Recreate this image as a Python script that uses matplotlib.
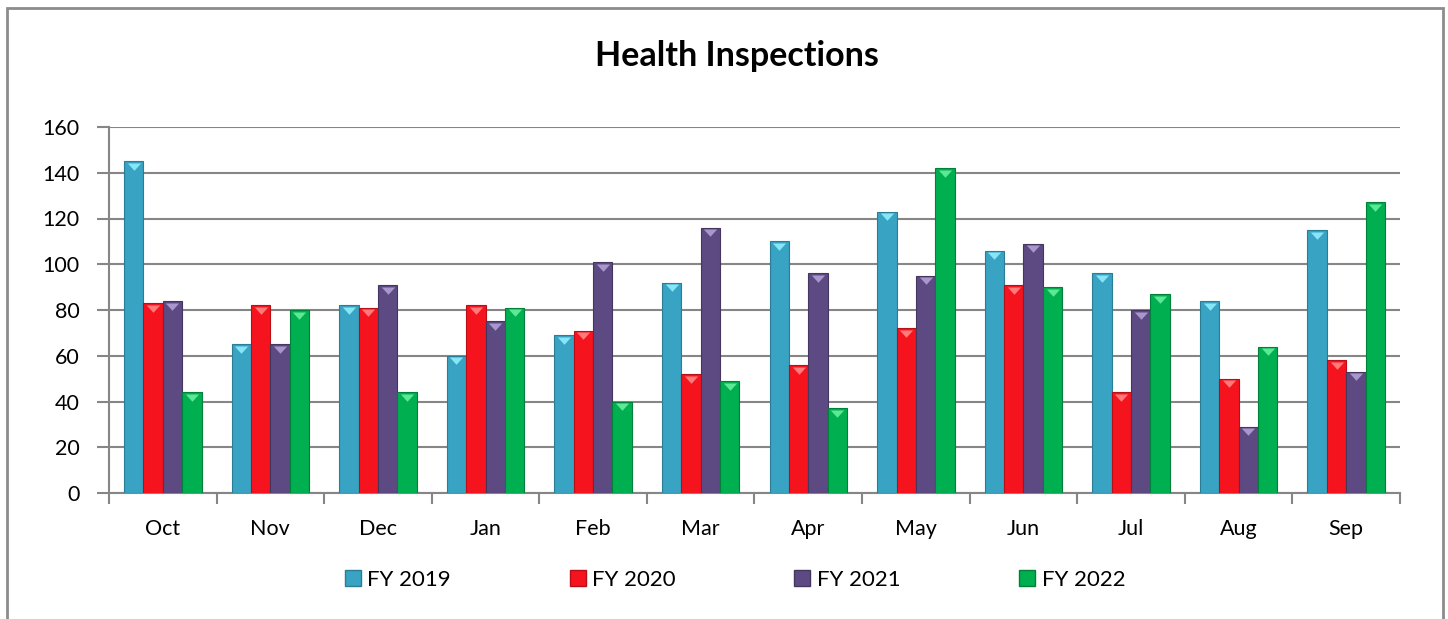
import numpy as np
import matplotlib
matplotlib.use("Agg")
import matplotlib.pyplot as plt
from matplotlib.patches import Rectangle
from matplotlib.lines import Line2D
import matplotlib.transforms as mtransforms

plt.rcParams['font.family'] = ['Lato', 'DejaVu Sans']

months = ["Oct", "Nov", "Dec", "Jan", "Feb", "Mar", "Apr", "May", "Jun", "Jul", "Aug", "Sep"]
series_names = ["FY 2019", "FY 2020", "FY 2021", "FY 2022"]
fy2019 = [145, 65, 82, 60, 69, 92, 110, 123, 106, 96, 84, 115]
fy2020 = [83, 82, 81, 82, 71, 52, 56, 72, 91, 44, 50, 58]
fy2021 = [84, 65, 91, 75, 101, 116, 96, 95, 109, 80, 29, 53]
fy2022 = [44, 80, 44, 81, 40, 49, 37, 142, 90, 87, 64, 127]
yticks = [0, 20, 40, 60, 80, 100, 120, 140, 160]
title = "Health Inspections"

colors = ["#38A3C2", "#F5141E", "#5E4A83", "#00AF50"]
edges = ["#2A7D95", "#B80E15", "#45365F", "#008038"]
tops = ["#86E6F7", "#FF7A7A", "#A896CC", "#5CE894"]

W, H = 1448, 619
fig = plt.figure(figsize=(W / 100, H / 100), dpi=100)
ax = fig.add_axes([109 / W, 1 - 493 / H, (1400 - 109) / W, (493 - 127) / H])

x = np.arange(len(months))
bw = 0.18
all_series = [fy2019, fy2020, fy2021, fy2022]

tri = [(-1.0, 0.0), (1.0, 0.0), (0.0, -1.1), (-1.0, 0.0)]
offset = mtransforms.ScaledTranslation(0, -1.2 / 72, fig.dpi_scale_trans)

for i, (vals, name) in enumerate(zip(all_series, series_names)):
    xs = x + (i - 1.5) * bw
    ax.bar(xs, vals, width=bw, color=colors[i], edgecolor=edges[i],
           linewidth=0.8, zorder=3, label=name)
    ax.plot(xs, vals, linestyle='none', marker=tri, markersize=10.5,
            color=tops[i], markeredgewidth=0, zorder=4,
            transform=ax.transData + offset)

ax.set_xlim(-0.5, len(months) - 0.5)
ax.set_ylim(0, 160)
ax.set_yticks(yticks)
ax.set_xticks(x)
ax.set_xticklabels(months)
ax.set_xticks(np.arange(-0.5, len(months), 1.0), minor=True)
ax.tick_params(axis='x', which='major', length=0, pad=19, labelsize=15.5)
ax.tick_params(axis='x', which='minor', length=8, width=1.5, color='#868686', direction='out')
ax.tick_params(axis='y', length=9, width=1.5, color='#868686', direction='out', pad=12, labelsize=15.5)
ax.yaxis.grid(True, color='#868686', linewidth=1.5, zorder=0)
ax.set_axisbelow(True)
for s in ['top', 'right']:
    ax.spines[s].set_visible(False)
for s in ['left', 'bottom']:
    ax.spines[s].set_color('#868686')
    ax.spines[s].set_linewidth(1.5)

fig.text(737 / W, 1 - 56 / H, title, ha='center', va='center',
         fontsize=24.5, fontweight='bold')

handles = [Line2D([0], [0], marker='s', linestyle='none', markersize=11,
                  markerfacecolor=colors[i], markeredgecolor=edges[i])
           for i in range(4)]
fig.legend(handles, series_names, loc='center left',
           bbox_to_anchor=(324 / W, 1 - 580 / H), ncol=4, frameon=False,
           fontsize=16, handlelength=0.8, handletextpad=0.25,
           columnspacing=5.3)

fig.patches.append(Rectangle((7 / W, -0.05), (1443 - 7) / W, 1 - 8 / H + 0.05,
                             transform=fig.transFigure, fill=False,
                             edgecolor='#8C8C8C', linewidth=2))

fig.savefig("out.png", dpi=100)
